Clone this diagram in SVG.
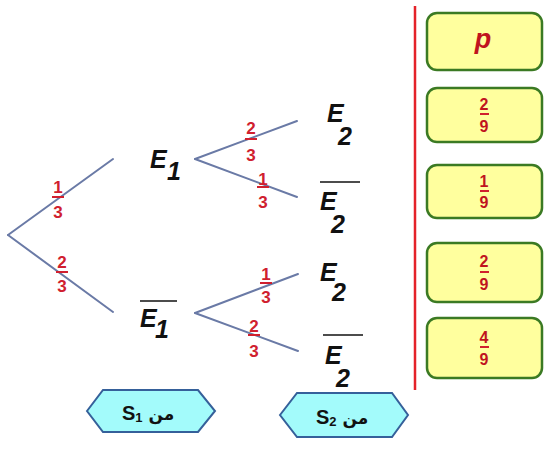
<svg xmlns="http://www.w3.org/2000/svg" width="546" height="460" viewBox="0 0 546 460">
<style>
.br{stroke:#6a7aa6;stroke-width:2;fill:none;stroke-linecap:round}
.fr{font-family:"Liberation Sans",Arial,sans-serif;font-weight:bold;font-size:17px;fill:#d0202e;text-anchor:middle}
.fb{stroke:#d0202e;stroke-width:2}
.ev{font-family:"Liberation Sans",Arial,sans-serif;font-weight:bold;font-style:italic;font-size:25px;fill:#111}
.ob{stroke:#111;stroke-width:1.6}
.box{fill:#ffff9e;stroke:#3b7a23;stroke-width:2.5}
.bt{font-family:"Liberation Sans",Arial,sans-serif;font-weight:bold;font-size:16px;fill:#c0141e;text-anchor:middle}
.pp{font-family:"Liberation Sans",Arial,sans-serif;font-weight:bold;font-style:italic;font-size:27px;fill:#c0141e;text-anchor:middle}
.hex{fill:#a3fbfb;stroke:#35609a;stroke-width:2}
.ht{font-family:"Liberation Sans","DejaVu Sans",sans-serif;font-weight:bold;font-size:20px;fill:#111}
.sub{font-size:13px}
.ar{font-family:"DejaVu Sans",sans-serif;font-size:17px}
</style>
<rect width="546" height="460" fill="#ffffff"/>
<g id="connectors">
<line class="br" x1="8" y1="235" x2="113" y2="159"/>
<line class="br" x1="8" y1="235" x2="113" y2="312"/>
<line class="br" x1="195" y1="159" x2="297" y2="121"/>
<line class="br" x1="195" y1="159" x2="297" y2="197"/>
<line class="br" x1="195" y1="313" x2="298" y2="274"/>
<line class="br" x1="195" y1="313" x2="298" y2="351"/>
<g id="p1">
<text class="fr" x="58" y="193">1</text><line class="fb" x1="52" y1="197" x2="64" y2="197"/><text class="fr" x="58" y="218">3</text>
</g>
<g id="p2">
<text class="fr" x="62" y="268">2</text><line class="fb" x1="56" y1="272" x2="68" y2="272"/><text class="fr" x="62" y="292">3</text>
</g>
<g id="p3">
<text class="fr" x="251" y="134">2</text><line class="fb" x1="245" y1="139" x2="257" y2="139"/><text class="fr" x="251" y="161">3</text>
</g>
<g id="p4">
<text class="fr" x="263" y="185">1</text><line class="fb" x1="257" y1="187" x2="269" y2="187"/><text class="fr" x="263" y="208">3</text>
</g>
<g id="p5">
<text class="fr" x="266" y="280">1</text><line class="fb" x1="260" y1="283" x2="272" y2="283"/><text class="fr" x="266" y="303">3</text>
</g>
<g id="p6">
<text class="fr" x="254" y="332">2</text><line class="fb" x1="248" y1="335" x2="260" y2="335"/><text class="fr" x="254" y="357">3</text>
</g>
</g>
<g id="E1">
<text class="ev" x="150" y="168">E</text><text class="ev" x="167" y="180">1</text>
</g>
<g id="E1bar">
<line class="ob" x1="140" y1="301" x2="177" y2="301"/>
<text class="ev" x="140" y="327">E</text><text class="ev" x="155" y="338">1</text>
</g>
<g id="E2a">
<text class="ev" x="327" y="122">E</text><text class="ev" x="338" y="145">2</text>
</g>
<g id="E2b">
<line class="ob" x1="320" y1="182" x2="360" y2="182"/>
<text class="ev" x="320" y="210">E</text><text class="ev" x="331" y="233">2</text>
</g>
<g id="E2c">
<text class="ev" x="320" y="281">E</text><text class="ev" x="332" y="301">2</text>
</g>
<g id="E2d">
<line class="ob" x1="323" y1="335" x2="363" y2="335"/>
<text class="ev" x="325" y="364">E</text><text class="ev" x="336" y="387">2</text>
</g>
<line x1="415" y1="6" x2="415" y2="390" stroke="#e42229" stroke-width="2.5"/>
<g id="box1">
<rect class="box" x="427" y="13" width="115" height="57" rx="10"/>
<text class="pp" x="483" y="48">p</text>
</g>
<g id="box2">
<rect class="box" x="427" y="88" width="115" height="54" rx="10"/>
<text class="bt" x="484" y="110">2</text><line class="fb" x1="480" y1="114" x2="489" y2="114"/><text class="bt" x="484" y="132">9</text>
</g>
<g id="box3">
<rect class="box" x="427" y="165" width="115" height="53" rx="10"/>
<text class="bt" x="484" y="187">1</text><line class="fb" x1="480" y1="191" x2="489" y2="191"/><text class="bt" x="484" y="208">9</text>
</g>
<g id="box4">
<rect class="box" x="427" y="243" width="115" height="59" rx="10"/>
<text class="bt" x="484" y="267">2</text><line class="fb" x1="480" y1="272" x2="489" y2="272"/><text class="bt" x="484" y="290">9</text>
</g>
<g id="box5">
<rect class="box" x="427" y="318" width="115" height="60" rx="10"/>
<text class="bt" x="484" y="343">4</text><line class="fb" x1="480" y1="347" x2="489" y2="347"/><text class="bt" x="484" y="365">9</text>
</g>
<g id="S1">
<polygon class="hex" points="87,411 103,390 198,390 215,411 198,432 103,432"/>
<text class="ht" x="122" y="420">S<tspan class="sub" dy="2">1</tspan><tspan class="ar" dy="-2"> من</tspan></text>
</g>
<g id="S2">
<polygon class="hex" points="280,415 297,393 392,393 408,415 392,437 297,437"/>
<text class="ht" x="316" y="424">S<tspan class="sub" dy="2">2</tspan><tspan class="ar" dy="-2"> من</tspan></text>
</g>
</svg>
